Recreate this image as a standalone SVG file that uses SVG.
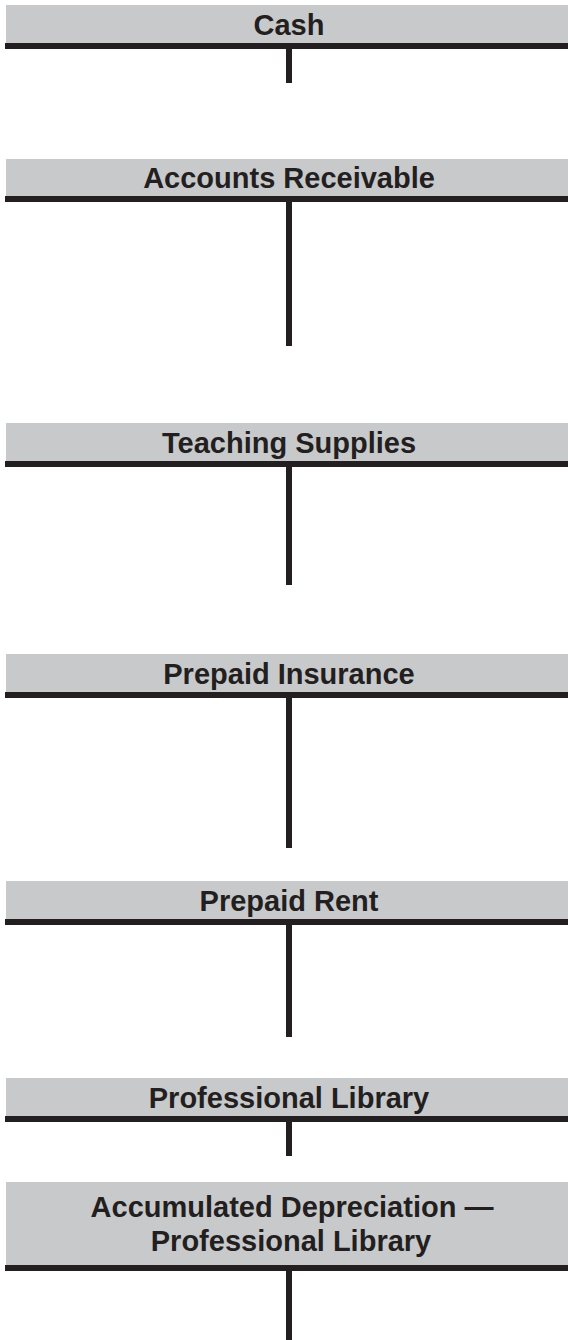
<svg xmlns="http://www.w3.org/2000/svg" width="568" height="1340" viewBox="0 0 568 1340">
<style>
.hd{fill:#c8c9cb}
.bar{fill:#231f20}
.t{font-family:"Liberation Sans",Arial,sans-serif;font-weight:bold;font-size:29px;fill:#231f20;text-anchor:middle}
</style>
<rect width="568" height="1340" fill="#fff"/>
<g id="cash">
<rect class="hd" x="6" y="5" width="562" height="38"/>
<text class="t" x="289" y="35">Cash</text>
</g>
<g id="accounts-receivable">
<rect class="hd" x="6" y="159" width="562" height="37"/>
<text class="t" x="289" y="188">Accounts Receivable</text>
</g>
<g id="teaching-supplies">
<rect class="hd" x="6" y="423" width="562" height="38"/>
<text class="t" x="289" y="453">Teaching Supplies</text>
</g>
<g id="prepaid-insurance">
<rect class="hd" x="6" y="654" width="562" height="38"/>
<text class="t" x="289" y="684">Prepaid Insurance</text>
</g>
<g id="prepaid-rent">
<rect class="hd" x="6" y="881" width="562" height="38"/>
<text class="t" x="289" y="911">Prepaid Rent</text>
</g>
<g id="professional-library">
<rect class="hd" x="6" y="1078" width="562" height="38"/>
<text class="t" x="289" y="1108">Professional Library</text>
</g>
<g id="accumulated-depreciation">
<rect class="hd" x="6" y="1182" width="562" height="83"/>
<text class="t" x="292" y="1217">Accumulated Depreciation —</text>
<text class="t" x="291" y="1251">Professional Library</text>
</g>
<g id="connectors">
<rect class="bar" x="5" y="43" width="563" height="6"/>
<rect class="bar" x="286" y="49" width="6" height="34"/>
<rect class="bar" x="5" y="196" width="563" height="6"/>
<rect class="bar" x="286" y="202" width="6" height="144"/>
<rect class="bar" x="5" y="461" width="563" height="6"/>
<rect class="bar" x="286" y="467" width="6" height="118"/>
<rect class="bar" x="5" y="692" width="563" height="6"/>
<rect class="bar" x="286" y="698" width="6" height="150"/>
<rect class="bar" x="5" y="919" width="563" height="6"/>
<rect class="bar" x="286" y="925" width="6" height="112"/>
<rect class="bar" x="5" y="1116" width="563" height="6"/>
<rect class="bar" x="286" y="1122" width="6" height="34"/>
<rect class="bar" x="5" y="1265" width="563" height="6"/>
<rect class="bar" x="286" y="1271" width="6" height="69"/>
</g>
</svg>
